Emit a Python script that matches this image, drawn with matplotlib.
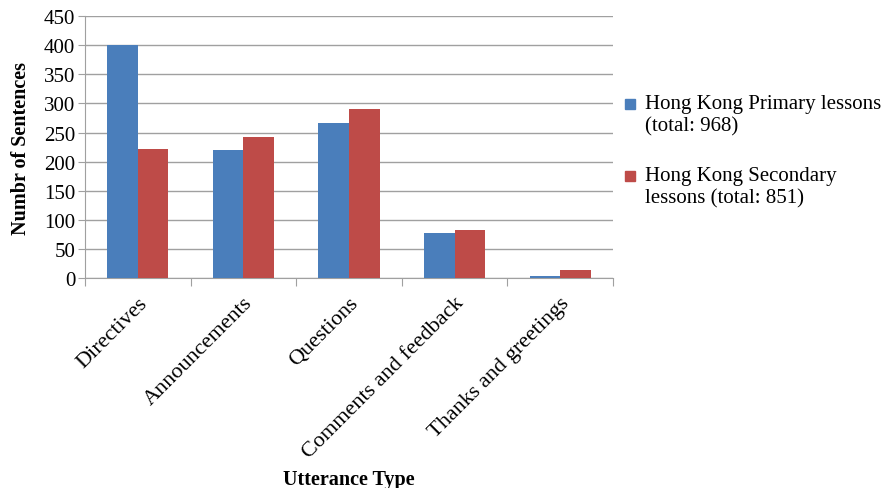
import matplotlib.pyplot as plt
from matplotlib.patches import Rectangle
import numpy as np

plt.rcParams['font.family'] = ['Liberation Serif', 'DejaVu Serif']

categories = ['Directives', 'Announcements', 'Questions', 'Comments and feedback', 'Thanks and greetings']
primary = [400, 220, 266, 78, 4]
secondary = [222, 243, 291, 82, 13]
primary_label = 'Hong Kong Primary lessons\n(total: 968)'
secondary_label = 'Hong Kong Secondary\nlessons (total: 851)'
colors = ['#4a7ebb', '#be4b48']

x = np.arange(len(categories))
width = 0.29

fig = plt.figure(figsize=(8.91, 4.89), dpi=100)
ax = fig.add_axes([0.0954, 0.4294, 0.5926, 0.5356])

ax.bar(x - width / 2, primary, width, color=colors[0], zorder=3)
ax.bar(x + width / 2, secondary, width, color=colors[1], zorder=3)

ax.set_xlim(-0.5, len(categories) - 0.5)
ax.set_ylim(0, 450)
ax.set_yticks(range(0, 451, 50))
ax.yaxis.grid(True, color='#a0a0a0', linewidth=1.0, zorder=0)

# category separators as ticks on the bottom axis
ax.set_xticks(np.arange(-0.5, len(categories), 1.0))
ax.set_xticklabels([])
ax.set_xticks(x, minor=True)
ax.set_xticklabels(categories, minor=True, rotation=45, ha='right',
                   rotation_mode='anchor', fontsize=16)
ax.tick_params(axis='x', which='minor', length=0, pad=11)
ax.tick_params(axis='x', which='major', length=6, color='#a0a0a0')
ax.tick_params(axis='y', length=5, color='#a0a0a0', labelsize=15, pad=2)

for side in ['top', 'right']:
    ax.spines[side].set_visible(False)
for side in ['left', 'bottom']:
    ax.spines[side].set_color('#a0a0a0')

ax.set_ylabel('Numbr of Sentences', fontsize=14.5, fontweight='bold')
ax.yaxis.set_label_coords(-0.123 + 0.021, 0.5)
fig.text(0.3917, 4 / 489, 'Utterance Type', fontsize=14.5, fontweight='bold', ha='center', va='baseline')

# legend drawn by hand so the square sits on the first text line
legend_rows = [(primary_label, colors[0], 1 - 105 / 489), (secondary_label, colors[1], 1 - 177 / 489)]
line_step = 22 / 489
for label, color, y0 in legend_rows:
    fig.patches.append(Rectangle((625 / 891, y0 - 5 / 489), 10 / 891, 10 / 489,
                                 transform=fig.transFigure, color=color))
    for i, line in enumerate(label.split('\n')):
        fig.text(645 / 891, y0 - i * line_step, line, fontsize=15, va='center', ha='left')

fig.savefig('out.png', dpi=100)
